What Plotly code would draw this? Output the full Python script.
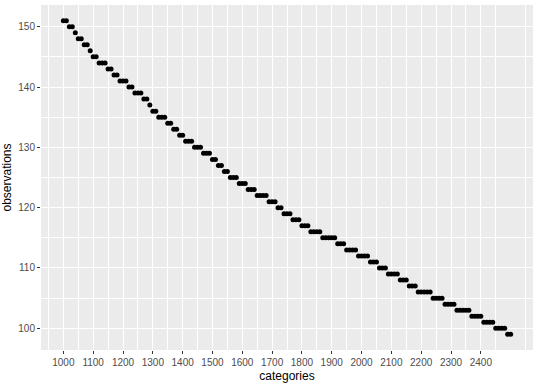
import plotly.graph_objects as go

categories = [
    1000, 1010, 1020, 1030, 1040, 1050, 1060, 1070, 1080, 1090,
    1100, 1110, 1120, 1130, 1140, 1150, 1160, 1170, 1180, 1190,
    1200, 1210, 1220, 1230, 1240, 1250, 1260, 1270, 1280, 1290,
    1300, 1310, 1320, 1330, 1340, 1350, 1360, 1370, 1380, 1390,
    1400, 1410, 1420, 1430, 1440, 1450, 1460, 1470, 1480, 1490,
    1500, 1510, 1520, 1530, 1540, 1550, 1560, 1570, 1580, 1590,
    1600, 1610, 1620, 1630, 1640, 1650, 1660, 1670, 1680, 1690,
    1700, 1710, 1720, 1730, 1740, 1750, 1760, 1770, 1780, 1790,
    1800, 1810, 1820, 1830, 1840, 1850, 1860, 1870, 1880, 1890,
    1900, 1910, 1920, 1930, 1940, 1950, 1960, 1970, 1980, 1990,
    2000, 2010, 2020, 2030, 2040, 2050, 2060, 2070, 2080, 2090,
    2100, 2110, 2120, 2130, 2140, 2150, 2160, 2170, 2180, 2190,
    2200, 2210, 2220, 2230, 2240, 2250, 2260, 2270, 2280, 2290,
    2300, 2310, 2320, 2330, 2340, 2350, 2360, 2370, 2380, 2390,
    2400, 2410, 2420, 2430, 2440, 2450, 2460, 2470, 2480, 2490,
    2500,
]

observations = [
    151, 151, 150, 150, 149, 148, 148, 147, 147, 146,
    145, 145, 144, 144, 144, 143, 143, 142, 142, 141,
    141, 141, 140, 140, 139, 139, 139, 138, 138, 137,
    136, 136, 135, 135, 135, 134, 134, 133, 133, 132,
    132, 131, 131, 131, 130, 130, 130, 129, 129, 129,
    128, 128, 127, 127, 126, 126, 125, 125, 125, 124,
    124, 124, 123, 123, 123, 122, 122, 122, 122, 121,
    121, 121, 120, 120, 119, 119, 119, 118, 118, 118,
    117, 117, 117, 116, 116, 116, 116, 115, 115, 115,
    115, 115, 114, 114, 114, 113, 113, 113, 113, 112,
    112, 112, 112, 111, 111, 111, 110, 110, 110, 109,
    109, 109, 109, 108, 108, 108, 107, 107, 107, 106,
    106, 106, 106, 106, 105, 105, 105, 105, 104, 104,
    104, 104, 103, 103, 103, 103, 103, 102, 102, 102,
    102, 101, 101, 101, 101, 100, 100, 100, 100, 99,
    99,
]

x_ticks = [1000, 1100, 1200, 1300, 1400, 1500, 1600, 1700,
           1800, 1900, 2000, 2100, 2200, 2300, 2400]
x_minor = [950, 1050, 1150, 1250, 1350, 1450, 1550, 1650, 1750,
           1850, 1950, 2050, 2150, 2250, 2350, 2450, 2550]
y_ticks = [100, 110, 120, 130, 140, 150]
y_minor = [105, 115, 125, 135, 145]

fig = go.Figure()
fig.add_trace(go.Scatter(
    x=categories, y=observations, mode="markers",
    marker=dict(color="black", size=5, line=dict(width=0)),
    showlegend=False,
))

font_family = "Liberation Sans, Arial, sans-serif"
fig.update_layout(
    width=540, height=386,
    margin=dict(l=41, r=7, t=5, b=36),
    paper_bgcolor="white",
    plot_bgcolor="#EBEBEB",
    font=dict(family=font_family, color="#4D4D4D", size=10),
)
fig.update_xaxes(
    range=[925, 2575],
    tickvals=x_ticks,
    ticktext=[str(v) for v in x_ticks],
    ticks="outside", ticklen=3, tickcolor="#333333", tickwidth=1,
    tickfont=dict(size=10, color="#4D4D4D"),
    showgrid=True, gridcolor="white", gridwidth=1.1,
    minor=dict(tickvals=x_minor, showgrid=True, gridcolor="white",
               gridwidth=0.5, ticks=""),
    zeroline=False, showline=False,
    title=dict(text="categories", font=dict(size=12, color="black"),
               standoff=4),
)
fig.update_yaxes(
    range=[96.4, 153.6],
    tickvals=y_ticks,
    ticks="outside", ticklen=3, tickcolor="#333333", tickwidth=1,
    tickfont=dict(size=10, color="#4D4D4D"),
    showgrid=True, gridcolor="white", gridwidth=1.1,
    minor=dict(tickvals=y_minor, showgrid=True, gridcolor="white",
               gridwidth=0.5, ticks=""),
    zeroline=False, showline=False,
    title=dict(text="observations", font=dict(size=12, color="black"),
               standoff=4),
)

fig.write_html("out.html")
